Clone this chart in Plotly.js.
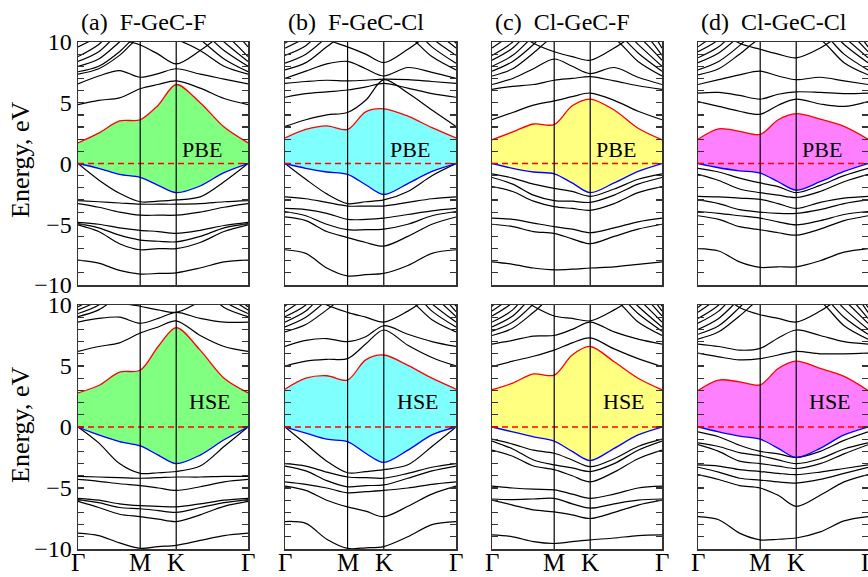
<!DOCTYPE html>
<html>
<head>
<meta charset="utf-8">
<script src="https://cdn.plot.ly/plotly-3.0.1.min.js"></script>
<style>html,body{margin:0;padding:0;background:#fff}#chart{width:868px;height:577px}</style>
</head>
<body>
<div id="chart"></div>
<script>
// k-path sample points: Γ, 1/3 ΓM, 2/3 ΓM, M, mid MK, K, 1/3 KΓ, 2/3 KΓ, Γ
const kPts = [0, 0.192, 0.385, 0.577, 0.744, 0.911, 1.133, 1.355, 1.577];
const kTicks = [0, 0.577, 0.911, 1.577];
const kLabels = ['Γ', 'M', 'K', 'Γ'];
const titles = ['(a)\u00a0\u00a0F-GeC-F', '(b)\u00a0\u00a0F-GeC-Cl', '(c)\u00a0\u00a0Cl-GeC-F', '(d)\u00a0\u00a0Cl-GeC-Cl'];
const methods = ['PBE', 'HSE'];
const fillColors = ['#80ff80', '#80ffff', '#ffff80', '#ff80ff'];

// ---------- PBE ----------
const cbmA_PBE = [1.7, 2.5, 3.5, 3.6, 4.8, 6.5, 5.0, 3.0, 1.7];
const vbmA_PBE = [0, -0.4, -0.9, -1.15, -1.8, -2.4, -1.85, -0.75, 0];
const bandsA_PBE = [
  [0, -1.35, -2.45, -3.15, -3.1, -3.0, -2.75, -1.5, 0],
  [-3.05, -3.15, -3.25, -3.35, -3.35, -3.35, -3.3, -3.15, -3.05],
  [-3.3, -3.6, -4.0, -4.25, -4.25, -4.25, -4.0, -3.6, -3.3],
  [-4.85, -5.0, -5.3, -5.5, -5.6, -5.75, -5.5, -5.1, -4.85],
  [-4.95, -5.3, -5.9, -6.3, -6.4, -6.45, -6.0, -5.3, -4.95],
  [-5.05, -5.6, -6.6, -7.1, -7.0, -7.0, -6.5, -5.6, -5.05],
  [-7.95, -8.2, -8.8, -9.1, -9.05, -9.0, -8.6, -8.1, -7.95],
  [4.85, 5.2, 5.4, 6.15, 6.5, 6.8, 6.2, 5.35, 4.85],
  [6.55, 7.2, 7.65, 7.1, 7.4, 7.8, 7.35, 6.95, 6.55],
  [12.5, 11.5, 10.3, 9.75, 9.0, 8.2, 9.3, 10.8, 12.5],
  [7.35, 7.8, 8.9, 10.4, 10.5, 10.2, 9.3, 8.0, 7.35],
  [7.55, 8.0, 9.2, 10.8, 11.5, 11.5, 10.2, 8.6, 7.55],
  [8.0, 8.6, 10.0, 11.5, 12, 12, 11, 9.3, 8.0],
  [8.4, 9.2, 10.8, 12, 12, 12, 11.8, 10.0, 8.4],
  [8.8, 9.8, 11.5, 12, 12, 12, 12, 10.7, 8.8],
  [9.6, 10.5, 12, 12, 12, 12, 12, 11.5, 9.6]
];

const cbmB_PBE = [2.1, 2.8, 3.1, 2.8, 4.25, 4.5, 3.9, 2.95, 2.1];
const vbmB_PBE = [0, -0.4, -0.7, -0.9, -1.75, -2.55, -1.65, -0.65, 0];
const bandsB_PBE = [
  [0, -1.3, -2.5, -3.3, -3.15, -3.0, -2.3, -1.0, 0],
  [-2.75, -2.9, -3.2, -3.5, -3.5, -3.5, -3.2, -2.9, -2.75],
  [-3.7, -3.8, -4.1, -4.6, -4.6, -4.5, -4.2, -3.9, -3.7],
  [-3.95, -4.3, -5.0, -5.45, -5.45, -5.4, -5.0, -4.3, -3.95],
  [-4.4, -4.7, -5.6, -6.1, -6.5, -6.8, -6.0, -5.0, -4.4],
  [-7.1, -7.4, -8.6, -9.25, -9.15, -9.05, -8.4, -7.4, -7.1],
  [3.05, 3.6, 4.0, 4.2, 5.2, 6.9, 5.8, 4.4, 3.05],
  [5.45, 5.75, 5.9, 6.05, 6.3, 6.6, 6.2, 5.75, 5.45],
  [6.6, 6.75, 6.85, 6.8, 6.85, 6.95, 6.9, 6.75, 6.6],
  [7.0, 7.6, 8.2, 8.4, 7.8, 7.2, 7.9, 7.5, 7.0],
  [12, 11, 10.2, 9.6, 9.0, 8.3, 9.4, 10.8, 12],
  [7.7, 8.3, 9.6, 10.8, 11, 11, 10.5, 8.8, 7.7],
  [8.25, 9.0, 10.4, 12, 12, 12, 11.5, 9.6, 8.25],
  [8.9, 9.7, 11.3, 12, 12, 12, 12, 10.3, 8.9],
  [9.5, 10.4, 12, 12, 12, 12, 12, 11, 9.5],
  [9.9, 11, 12, 12, 12, 12, 12, 11.6, 9.9]
];

const cbmC_PBE = [1.95, 2.6, 3.25, 3.2, 4.75, 5.3, 4.4, 2.9, 1.95];
const vbmC_PBE = [0, -0.4, -0.7, -0.85, -1.6, -2.4, -1.6, -0.65, 0];
const bandsC_PBE = [
  [-0.85, -1.2, -1.7, -2.05, -2.3, -2.7, -2.1, -1.3, -0.85],
  [-1.15, -1.7, -2.6, -3.05, -3.1, -3.2, -2.6, -1.7, -1.15],
  [-1.9, -2.3, -3.1, -3.55, -3.7, -3.85, -3.3, -2.4, -1.9],
  [-4.5, -4.6, -4.9, -5.2, -5.4, -5.7, -5.3, -4.8, -4.5],
  [-5.0, -5.2, -5.6, -5.75, -6.2, -6.6, -6.0, -5.4, -5.0],
  [-8.1, -8.3, -8.6, -8.75, -8.7, -8.6, -8.5, -8.3, -8.1],
  [3.6, 4.2, 4.8, 5.15, 5.5, 5.8, 5.2, 4.3, 3.6],
  [6.1, 6.35, 6.5, 6.85, 7.0, 7.15, 6.8, 6.4, 6.1],
  [6.5, 7.0, 7.8, 8.6, 8.0, 7.4, 7.9, 7.1, 6.5],
  [12, 11, 9.9, 9.2, 8.8, 8.5, 9.5, 10.8, 12],
  [7.2, 7.8, 9.1, 10.5, 11, 11, 10.3, 8.4, 7.2],
  [7.6, 8.4, 9.8, 11.5, 12, 12, 11, 9.1, 7.6],
  [8.0, 8.9, 10.5, 12, 12, 12, 11.7, 9.8, 8.0],
  [8.5, 9.5, 11.2, 12, 12, 12, 12, 10.5, 8.5],
  [8.9, 10.0, 12, 12, 12, 12, 12, 11.2, 8.9],
  [9.5, 10.7, 12, 12, 12, 12, 12, 12, 9.5]
];

const cbmD_PBE = [2.0, 2.85, 2.65, 2.4, 3.6, 4.1, 3.65, 3.05, 2.0];
const vbmD_PBE = [0, -0.35, -0.6, -0.8, -1.5, -2.2, -1.5, -0.65, 0];
const bandsD_PBE = [
  [-0.4, -0.7, -1.2, -1.6, -1.9, -2.4, -1.8, -1.0, -0.4],
  [-0.9, -1.4, -2.1, -2.4, -2.6, -2.8, -2.3, -1.5, -0.9],
  [-2.7, -2.75, -2.85, -2.95, -3.3, -3.7, -3.2, -2.85, -2.7],
  [-3.0, -3.3, -3.8, -4.0, -4.1, -4.1, -3.8, -3.3, -3.0],
  [-3.95, -4.1, -4.3, -4.5, -4.8, -5.05, -4.7, -4.2, -3.95],
  [-4.3, -4.6, -5.2, -5.45, -5.7, -5.9, -5.4, -4.7, -4.3],
  [-7.0, -7.2, -8.1, -8.55, -8.5, -8.5, -8.0, -7.3, -7.0],
  [5.1, 4.7, 4.3, 4.05, 4.8, 5.3, 4.9, 4.7, 5.1],
  [5.8, 5.85, 5.6, 5.3, 5.7, 5.9, 5.85, 5.75, 5.8],
  [6.5, 6.9, 7.3, 7.6, 7.2, 6.9, 7.1, 6.8, 6.5],
  [12, 11, 9.9, 9.4, 9.0, 8.7, 9.5, 10.8, 12],
  [7.3, 7.8, 9.0, 10.3, 10.8, 10.8, 10.2, 8.3, 7.3],
  [7.7, 8.4, 9.7, 11.3, 12, 12, 11, 9.0, 7.7],
  [8.3, 9.1, 10.5, 12, 12, 12, 11.8, 9.8, 8.3],
  [8.7, 9.6, 11.2, 12, 12, 12, 12, 10.4, 8.7],
  [9.2, 10.2, 12, 12, 12, 12, 12, 11.1, 9.2],
  [9.6, 10.8, 12, 12, 12, 12, 12, 11.8, 9.6]
];

// ---------- HSE ----------
const cbmA_HSE = [2.8, 3.4, 4.5, 4.65, 6.6, 8.15, 6.3, 4.0, 2.8];
const vbmA_HSE = [0, -0.65, -1.2, -1.55, -2.3, -3.0, -2.3, -1.05, 0];
const bandsA_HSE = [
  [0, -1.3, -3.0, -3.8, -3.75, -3.65, -3.2, -1.6, 0],
  [-4.05, -4.1, -4.15, -4.2, -4.15, -4.1, -4.1, -4.05, -4.05],
  [-4.3, -4.45, -4.65, -4.8, -5.0, -5.2, -4.9, -4.5, -4.3],
  [-5.85, -6.0, -6.3, -6.45, -6.5, -6.55, -6.3, -6.0, -5.85],
  [-5.95, -6.2, -6.6, -6.7, -6.85, -7.0, -6.6, -6.2, -5.95],
  [-6.1, -6.6, -7.15, -7.35, -7.55, -7.75, -7.2, -6.5, -6.1],
  [-8.7, -8.9, -9.5, -9.95, -9.8, -9.7, -9.3, -8.9, -8.7],
  [6.2, 6.6, 6.9, 7.7, 8.2, 8.7, 7.5, 6.6, 6.2],
  [8.6, 8.9, 9.0, 8.5, 8.9, 9.4, 8.9, 8.6, 8.6],
  [12, 11, 10.2, 9.9, 9.6, 9.4, 10.3, 11.5, 12],
  [9.05, 9.6, 10.8, 12, 12, 12, 11.5, 9.8, 9.05],
  [9.3, 10.0, 11.5, 12, 12, 12, 12, 10.3, 9.3],
  [9.6, 10.4, 12, 12, 12, 12, 12, 10.8, 9.6],
  [9.85, 10.8, 12, 12, 12, 12, 12, 11.3, 9.85]
];

const cbmB_HSE = [3.1, 4.0, 4.2, 3.85, 5.5, 5.9, 5.05, 4.0, 3.1];
const vbmB_HSE = [0, -0.5, -1.0, -1.2, -2.15, -2.9, -1.9, -0.65, 0];
const bandsB_HSE = [
  [0, -1.4, -2.8, -3.75, -3.65, -3.5, -3.1, -1.6, 0],
  [-3.0, -3.2, -3.7, -4.1, -4.15, -4.2, -3.8, -3.3, -3.0],
  [-3.2, -3.6, -4.4, -4.9, -4.8, -4.75, -4.2, -3.6, -3.2],
  [-4.5, -4.7, -5.0, -5.4, -5.3, -5.2, -5.0, -4.7, -4.5],
  [-4.85, -5.2, -6.0, -6.55, -6.9, -7.35, -6.5, -5.5, -4.85],
  [-7.75, -7.9, -9.2, -9.95, -9.9, -9.8, -9.0, -8.0, -7.75],
  [5.0, 5.4, 5.55, 5.6, 6.8, 7.95, 6.7, 5.7, 5.0],
  [6.6, 7.1, 7.25, 7.0, 7.4, 8.3, 7.6, 7.0, 6.6],
  [12, 11, 10.0, 9.4, 9.0, 8.6, 9.5, 10.8, 12],
  [7.8, 8.4, 9.6, 10.8, 11, 11, 10.5, 8.8, 7.8],
  [8.2, 9.0, 10.4, 12, 12, 12, 11.5, 9.5, 8.2],
  [8.6, 9.5, 11.2, 12, 12, 12, 12, 10.1, 8.6],
  [9.05, 10.0, 12, 12, 12, 12, 12, 10.8, 9.05],
  [9.45, 10.6, 12, 12, 12, 12, 12, 11.4, 9.45],
  [9.9, 11.2, 12, 12, 12, 12, 12, 12, 9.9]
];

const cbmC_HSE = [3.05, 3.6, 4.35, 4.25, 5.9, 6.6, 5.35, 4.0, 3.05];
const vbmC_HSE = [0, -0.4, -0.8, -1.15, -2.0, -2.75, -1.75, -0.65, 0];
const bandsC_HSE = [
  [-1.0, -1.4, -1.9, -2.15, -2.7, -3.25, -2.6, -1.6, -1.0],
  [-1.15, -1.8, -2.7, -3.1, -3.35, -3.65, -3.0, -1.9, -1.15],
  [-1.9, -2.4, -3.2, -3.5, -4.0, -4.5, -3.7, -2.6, -1.9],
  [-4.85, -5.0, -5.1, -5.15, -5.5, -5.85, -5.5, -5.0, -4.85],
  [-5.9, -5.95, -5.9, -5.85, -6.3, -6.65, -6.3, -6.0, -5.9],
  [-6.0, -6.4, -6.8, -6.95, -7.2, -7.5, -7.0, -6.4, -6.0],
  [-8.85, -9.0, -9.4, -9.55, -9.4, -9.25, -9.1, -8.9, -8.85],
  [4.95, 5.4, 5.8, 6.3, 6.9, 7.3, 6.4, 5.6, 4.95],
  [6.8, 7.1, 7.45, 7.5, 8.0, 8.6, 7.8, 7.2, 6.8],
  [12, 11, 9.9, 9.1, 8.9, 8.7, 9.6, 10.8, 12],
  [7.5, 8.1, 9.4, 10.8, 11, 11, 10.5, 8.6, 7.5],
  [7.85, 8.6, 10.1, 12, 12, 12, 11.2, 9.3, 7.85],
  [8.2, 9.1, 10.8, 12, 12, 12, 11.9, 9.9, 8.2],
  [8.6, 9.6, 11.5, 12, 12, 12, 12, 10.5, 8.6],
  [9.1, 10.2, 12, 12, 12, 12, 12, 11.1, 9.1],
  [9.5, 10.7, 12, 12, 12, 12, 12, 11.7, 9.5],
  [9.9, 11.2, 12, 12, 12, 12, 12, 12, 9.9]
];

const cbmD_HSE = [3.0, 3.85, 3.7, 3.45, 4.8, 5.4, 4.8, 4.15, 3.0];
const vbmD_HSE = [0, -0.4, -0.75, -1.0, -1.75, -2.5, -1.75, -0.65, 0];
const bandsD_HSE = [
  [-0.4, -0.8, -1.5, -2.0, -2.2, -2.5, -2.0, -1.1, -0.4],
  [-1.3, -1.6, -2.1, -2.35, -2.7, -3.0, -2.6, -1.8, -1.3],
  [-1.45, -2.0, -2.8, -3.0, -3.2, -3.4, -3.0, -2.2, -1.45],
  [-3.1, -3.2, -3.5, -3.65, -3.8, -3.9, -3.7, -3.4, -3.1],
  [-3.3, -3.7, -4.2, -4.35, -4.5, -4.6, -4.3, -3.8, -3.3],
  [-3.9, -4.3, -4.8, -5.0, -5.6, -6.5, -5.6, -4.5, -3.9],
  [-7.35, -7.6, -8.7, -9.25, -9.2, -9.1, -8.6, -7.7, -7.35],
  [6.05, 5.75, 5.5, 5.6, 5.9, 6.2, 6.0, 6.0, 6.05],
  [6.8, 6.6, 6.3, 6.45, 7.3, 7.95, 7.5, 7.0, 6.8],
  [12, 11, 9.8, 9.2, 8.9, 8.6, 9.5, 10.8, 12],
  [7.2, 7.8, 9.1, 10.5, 11, 11, 10.3, 8.3, 7.2],
  [7.6, 8.3, 9.8, 11.5, 12, 12, 11, 9.0, 7.6],
  [8.0, 8.9, 10.5, 12, 12, 12, 11.7, 9.7, 8.0],
  [8.5, 9.5, 11.2, 12, 12, 12, 12, 10.4, 8.5],
  [8.9, 10.0, 12, 12, 12, 12, 12, 11.0, 8.9],
  [9.4, 10.6, 12, 12, 12, 12, 12, 11.7, 9.4],
  [9.8, 11.1, 12, 12, 12, 12, 12, 12, 9.8]
];

const panels = [
  {cbm: cbmA_PBE, vbm: vbmA_PBE, bands: bandsA_PBE},
  {cbm: cbmB_PBE, vbm: vbmB_PBE, bands: bandsB_PBE},
  {cbm: cbmC_PBE, vbm: vbmC_PBE, bands: bandsC_PBE},
  {cbm: cbmD_PBE, vbm: vbmD_PBE, bands: bandsD_PBE},
  {cbm: cbmA_HSE, vbm: vbmA_HSE, bands: bandsA_HSE},
  {cbm: cbmB_HSE, vbm: vbmB_HSE, bands: bandsB_HSE},
  {cbm: cbmC_HSE, vbm: vbmC_HSE, bands: bandsC_HSE},
  {cbm: cbmD_HSE, vbm: vbmD_HSE, bands: bandsD_HSE}
];

const W = 868, H = 577;
const colPx = [[78, 248], [285, 456], [492, 662], [698, 868]];
const rowPx = [[42, 285], [305, 549]];
const FONT = 'Liberation Serif, Times New Roman, serif';

const traces = [];
const layout = {
  width: W, height: H, margin: {l: 0, r: 0, t: 0, b: 0},
  paper_bgcolor: '#fff', plot_bgcolor: '#fff', showlegend: false,
  font: {family: FONT, size: 24, color: '#000'},
  shapes: [], annotations: []
};
const lineSh = {shape: 'spline', smoothing: 0.9};
const yTickVals = [], yTickText = [];
for (let v = -10; v <= 10; v++) {
  yTickVals.push(v);
  yTickText.push(v % 5 === 0 ? String(v).replace('-', '\u2212') : '');
}

panels.forEach((p, i) => {
  const row = Math.floor(i / 4), col = i % 4;
  const n = i + 1;
  const xa = n === 1 ? 'x' : 'x' + n;
  const ya = n === 1 ? 'y' : 'y' + n;
  const xk = n === 1 ? 'xaxis' : 'xaxis' + n;
  const yk = n === 1 ? 'yaxis' : 'yaxis' + n;
  layout[xk] = {
    domain: [colPx[col][0] / W, colPx[col][1] / W], anchor: ya,
    range: [0, kPts[kPts.length - 1]], showgrid: false, zeroline: false,
    showline: true, mirror: true, linecolor: '#333', linewidth: 1.5,
    tickvals: kTicks, ticks: '', showticklabels: false,
    fixedrange: true
  };
  layout[yk] = {
    domain: [1 - rowPx[row][1] / H, 1 - rowPx[row][0] / H], anchor: xa,
    range: [-10, 10], showgrid: false, zeroline: false,
    showline: true, mirror: 'ticks', linecolor: '#333', linewidth: 1.5,
    tickvals: yTickVals, ticktext: yTickText, ticks: 'inside', ticklen: 6,
    tickcolor: '#333', tickwidth: 1.2,
    showticklabels: col === 0, tickfont: {size: 24, family: FONT},
    fixedrange: true
  };
  // gap fill
  traces.push({x: kPts, y: p.vbm, xaxis: xa, yaxis: ya, mode: 'lines', line: Object.assign({width: 0, color: 'rgba(0,0,0,0)'}, lineSh), hoverinfo: 'skip'});
  traces.push({x: kPts, y: p.cbm, xaxis: xa, yaxis: ya, mode: 'lines', fill: 'tonexty', fillcolor: fillColors[col], line: Object.assign({width: 0, color: 'rgba(0,0,0,0)'}, lineSh), hoverinfo: 'skip'});
  // other bands
  p.bands.forEach(b => {
    traces.push({x: kPts, y: b, xaxis: xa, yaxis: ya, mode: 'lines', line: Object.assign({width: 1.2, color: '#000'}, lineSh), hoverinfo: 'skip'});
  });
  // band edges
  traces.push({x: kPts, y: p.vbm, xaxis: xa, yaxis: ya, mode: 'lines', line: Object.assign({width: 1.3, color: '#0000ff'}, lineSh), hoverinfo: 'skip'});
  traces.push({x: kPts, y: p.cbm, xaxis: xa, yaxis: ya, mode: 'lines', line: Object.assign({width: 1.3, color: '#ff0000'}, lineSh), hoverinfo: 'skip'});
  // Fermi level
  layout.shapes.push({type: 'line', xref: xa, yref: ya, x0: kTicks[0], x1: kTicks[3], y0: 0, y1: 0, line: {color: '#ff0000', width: 1.4, dash: '6px,4px'}});
  // high-symmetry verticals
  [kTicks[1], kTicks[2]].forEach(kx => {
    layout.shapes.push({type: 'line', xref: xa, yref: ya + ' domain', x0: kx, x1: kx, y0: 0, y1: 1, line: {color: '#000', width: 1.2}});
  });
  // method label
  layout.annotations.push({
    xref: xa + ' domain', yref: ya, x: row === 0 ? 0.73 : 0.775, y: row === 0 ? 1.15 : 2.05,
    text: methods[row], showarrow: false, font: {size: 22, family: FONT, color: '#000'},
    xanchor: 'center', yanchor: 'middle'
  });
  if (row === 0) {
    layout.annotations.push({
      xref: 'paper', yref: 'paper', x: (colPx[col][0] + 1) / W, y: 1 - 22 / H,
      text: titles[col], showarrow: false, font: {size: 24, family: FONT, color: '#000'},
      xanchor: 'left', yanchor: 'middle'
    });
  } else {
    kTicks.forEach((kx, j) => {
      layout.annotations.push({
        xref: xa, yref: 'paper', x: kx, y: 0,
        text: kLabels[j], showarrow: false, font: {size: 25, family: FONT, color: '#000'},
        xanchor: 'center', yanchor: 'bottom', borderpad: 0
      });
    });
  }
  if (col === 0) {
    layout.annotations.push({
      xref: 'paper', yref: 'paper', x: 20 / W, y: 1 - (row === 0 ? 160 : 425) / H,
      text: 'Energy, eV', textangle: -90, showarrow: false,
      font: {size: 26, family: FONT, color: '#000'}, xanchor: 'center', yanchor: 'middle'
    });
  }
});

Plotly.newPlot('chart', traces, layout, {staticPlot: true, displayModeBar: false});
</script>
</body>
</html>
